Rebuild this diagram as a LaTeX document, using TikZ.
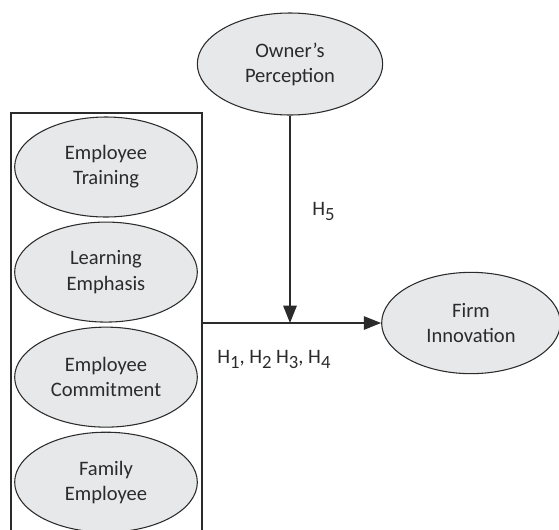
\documentclass[tikz,border=0pt]{standalone}
\usepackage{fontspec}
\setmainfont{Carlito}
\usepackage{tikz}
\usetikzlibrary{shapes,arrows.meta,positioning,calc}

\definecolor{construct}{HTML}{E7E8E9}
\definecolor{ink}{HTML}{2B2B2B}

% hypothesis index, set low and almost full size
\newcommand{\hidx}[1]{\raisebox{-3.8pt}{\fontsize{14}{14}\selectfont #1}}

\begin{document}
\begin{tikzpicture}[
    x=0.75pt, y=-0.75pt,
    font=\fontsize{15.4}{18.8}\selectfont, text=ink,
    construct/.style={ellipse, draw=ink, line width=0.8pt, fill=construct, minimum width=137pt, minimum height=75pt, align=center, inner sep=0pt},
    link/.style={draw=ink, line width=1.4pt, -{Triangle[length=13pt, width=10pt]}},
    hyp/.style={anchor=base west, inner sep=0pt},
    node distance=3pt
]

\clip (0,0) rectangle (559,529);

% Independent variables
\node[construct] (training) at (106,167) {Employee\\Training};
\node[construct, below=of training] (learning) {Learning\\Emphasis};
\node[construct, below=of learning] (commitment) {Employee\\Commitment};
\node[construct, below=of commitment] (family) {Family\\Employee};

% Open box around them
\node[draw=ink, line width=1.5pt, anchor=north west, minimum width=143.6pt, minimum height=340pt, inner sep=0pt] (block) at (9.5,111.5) {};

% Moderator and outcome
\node[construct, minimum width=139pt, minimum height=76.5pt] (owner) at (290,64) {Owner's\\Perception};
\node[construct, minimum width=134pt, minimum height=76pt] (firm) at (471,323) {Firm\\Innovation};

\coordinate (junction) at (owner.south |- firm.west);

% Arrows
\draw[link] (block.east |- firm.west) -- (firm.west);
\draw[link] (owner.south) -- (junction);

% Hypotheses
\node[hyp] (h5) at (312,215) {H\hidx{5}};
\node[hyp] (h14) at (217,363) {H\hidx{1}, H\hidx{2} H\hidx{3}, H\hidx{4}};

\end{tikzpicture}
\end{document}
